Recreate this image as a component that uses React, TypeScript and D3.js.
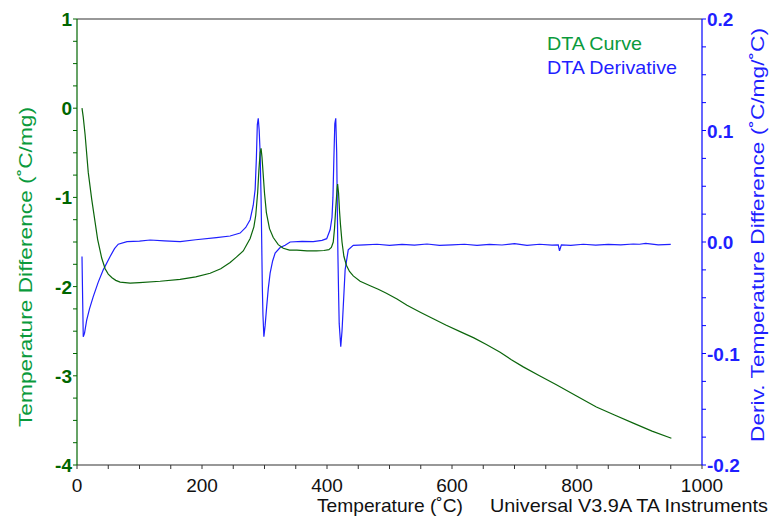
import * as d3 from 'd3'

// DTA curve (°C/mg) vs temperature (°C)
const dtaTemp = [
  8, 10, 13, 18, 23.5, 29, 33, 39.5, 45, 50, 56, 62, 69, 85, 100, 133, 165, 190, 213, 230,
  245, 255, 266, 277, 283, 286, 289, 291, 293, 294.5, 296, 298, 300, 303, 308, 314, 322, 330,
  340, 352, 368, 383, 395, 403, 407, 410, 412, 414, 416, 417, 418.5, 420, 421.5, 424, 427, 431,
  436, 442, 453, 469, 482, 495, 512, 528, 550, 570, 590, 613, 635, 655, 677, 695, 714, 740,
  767, 800, 831, 860, 890, 920, 951,
]
const dtaValue = [
  0.0, -0.1, -0.3, -0.72, -1.02, -1.28, -1.47, -1.68, -1.8, -1.86, -1.9, -1.93, -1.95, -1.96,
  -1.955, -1.94, -1.92, -1.89, -1.85, -1.8, -1.73, -1.67, -1.6, -1.46, -1.33, -1.2, -0.95,
  -0.7, -0.5, -0.45, -0.55, -0.75, -0.95, -1.17, -1.35, -1.45, -1.53, -1.57, -1.59, -1.59,
  -1.6, -1.6, -1.595, -1.585, -1.56, -1.5, -1.35, -1.12, -0.92, -0.85, -0.95, -1.15, -1.3,
  -1.5, -1.66, -1.76, -1.83, -1.88, -1.94, -1.99, -2.03, -2.075, -2.14, -2.21, -2.29, -2.36,
  -2.43, -2.505, -2.575, -2.65, -2.735, -2.82, -2.9, -3.0, -3.1, -3.23, -3.35, -3.44, -3.53,
  -3.62, -3.7,
]

// DTA derivative (°C/mg/°C) vs temperature (°C)
const derivTemp = [
  8, 9, 10, 12, 15.5, 20, 26, 34, 42, 53, 60, 66, 80, 100, 117, 140, 165, 190, 223, 245, 261,
  270, 277, 282, 285, 287, 288.5, 290, 291.5, 293, 294.5, 295.5, 296.5, 297.5, 299, 301, 303.5,
  306, 309, 313, 317, 325, 333, 341, 360, 378, 392, 399.5, 405, 408, 409.5, 411, 412.5, 414,
  415.5, 416.5, 417.5, 418.5, 419.5, 422, 424, 426, 429, 434, 442, 460, 480, 500, 520, 540,
  560, 580, 600, 620, 640, 660, 680, 700, 720, 740, 760, 770, 772, 775, 790, 810, 830, 850,
  870, 890, 900, 910, 930, 950,
]
const derivValue = [
  -0.013, -0.05, -0.085, -0.082, -0.07, -0.06, -0.049, -0.036, -0.025, -0.013, -0.006, -0.002,
  0.0003, 0.0008, 0.0018, 0.001, 0.0003, 0.002, 0.004, 0.0054, 0.008, 0.013, 0.02, 0.033,
  0.047, 0.075, 0.105, 0.111, 0.1, 0.08, 0.04, 0.002, -0.04, -0.065, -0.085, -0.075, -0.058,
  -0.042, -0.028, -0.017, -0.01, -0.005, -0.003, 0.0, 0.0005, 0.0003, 0.0015, 0.003, 0.011,
  0.022, 0.04, 0.075, 0.106, 0.111, 0.08, 0.03, -0.013, -0.045, -0.073, -0.094, -0.08, -0.058,
  -0.025, -0.007, -0.003, -0.0025, -0.002, -0.003, -0.0022, -0.0028, -0.0018, -0.003, -0.0025,
  -0.002, -0.003, -0.0022, -0.0027, -0.0015, -0.003, -0.002, -0.0028, -0.0025, -0.008,
  -0.0025, -0.003, -0.002, -0.0028, -0.0022, -0.0026, -0.0018, -0.002, -0.0012, -0.0025,
  -0.0022, -0.0023,
]

const xTicks = [0, 200, 400, 600, 800, 1000]
const leftTicks = [1, 0, -1, -2, -3, -4]
const rightTicks = [0.2, 0.1, 0.0, -0.1, -0.2]

const W = 774
const H = 516
const left = 77
const right = 702
const top = 19
const bottom = 465

const green = '#0b650b'
const greenText = '#0a9a3c'
const blue = '#1f1fff'
const font = 'Arial, "Liberation Sans", sans-serif'

export default function App() {
  const x = d3.scaleLinear().domain([0, 1000]).range([left, right])
  const yL = d3.scaleLinear().domain([-4, 1]).range([bottom, top])
  const yR = d3.scaleLinear().domain([-0.2, 0.2]).range([bottom, top])

  const dtaLine = d3
    .line<number>()
    .x((_, i) => x(dtaTemp[i]))
    .y(d => yL(d))
  const derivLine = d3
    .line<number>()
    .x((_, i) => x(derivTemp[i]))
    .y(d => yR(d))

  const xMinor = d3.range(0, 1001, 50)
  const lMinor = d3.range(-4, 1.001, 0.25)
  const rMinor = d3.range(-0.2, 0.2001, 0.025)

  return (
    <svg
      width={W}
      height={H}
      style={{ position: 'absolute', left: 0, top: 0, background: 'white' }}
      fontFamily={font}
    >
      {/* frame */}
      <line x1={left} x2={right} y1={top} y2={top} stroke="#333" strokeWidth={1.2} />
      <line x1={left} x2={right} y1={bottom} y2={bottom} stroke="#333" strokeWidth={1.2} />
      <line x1={left} x2={left} y1={top} y2={bottom} stroke="#006600" strokeWidth={1.2} />
      <line x1={right} x2={right} y1={top} y2={bottom} stroke="#0000ff" strokeWidth={1.2} />

      {/* x ticks */}
      {xMinor.map(t => (
        <line key={'xm' + t} x1={x(t)} x2={x(t)} y1={bottom} y2={bottom + 4} stroke="#333" />
      ))}
      {xTicks.map(t => (
        <text key={'xt' + t} x={x(t)} y={492} textAnchor="middle" fontSize={19} fill="#111">
          {t}
        </text>
      ))}

      {/* left ticks */}
      {lMinor.map(t => (
        <line key={'lm' + t} x1={left - 4} x2={left} y1={yL(t)} y2={yL(t)} stroke="#006600" />
      ))}
      {leftTicks.map(t => (
        <text
          key={'lt' + t}
          x={left - 5}
          y={yL(t) + 7}
          textAnchor="end"
          fontSize={19}
          fontWeight="bold"
          fill="#006600"
        >
          {t}
        </text>
      ))}

      {/* right ticks */}
      {rMinor.map(t => (
        <line key={'rm' + t} x1={right} x2={right + 4} y1={yR(t)} y2={yR(t)} stroke="#0000ff" />
      ))}
      {rightTicks.map(t => (
        <text
          key={'rt' + t}
          x={right + 5}
          y={yR(t) + 7}
          fontSize={19}
          fontWeight="bold"
          fill={blue}
        >
          {t.toFixed(1)}
        </text>
      ))}

      {/* axis titles */}
      <text
        transform={`translate(25, 267) rotate(-90)`}
        textAnchor="middle"
        dominantBaseline="central"
        fontSize={19}
        fill={greenText}
        textLength={320}
        lengthAdjust="spacingAndGlyphs"
      >
        Temperature Difference (˚C/mg)
      </text>
      <text
        transform={`translate(757, 235) rotate(-90)`}
        textAnchor="middle"
        dominantBaseline="central"
        fontSize={19}
        fill={blue}
        textLength={414}
        lengthAdjust="spacingAndGlyphs"
      >
        Deriv. Temperature Difference (˚C/mg/˚C)
      </text>
      <text x={317} y={512} fontSize={19} fill="#111" textLength={146} lengthAdjust="spacingAndGlyphs">
        Temperature (˚C)
      </text>
      <text x={490} y={512} fontSize={19} fill="#111" textLength={278} lengthAdjust="spacingAndGlyphs">
        Universal V3.9A TA Instruments
      </text>

      {/* legend */}
      <text x={547} y={50} fontSize={19} fill={greenText} textLength={95} lengthAdjust="spacingAndGlyphs">
        DTA Curve
      </text>
      <text x={547} y={74} fontSize={19} fill={blue} textLength={130} lengthAdjust="spacingAndGlyphs">
        DTA Derivative
      </text>

      {/* curves */}
      <path d={derivLine(derivValue) ?? ''} fill="none" stroke={blue} strokeWidth={1.2} />
      <path d={dtaLine(dtaValue) ?? ''} fill="none" stroke={green} strokeWidth={1.2} />
    </svg>
  )
}
